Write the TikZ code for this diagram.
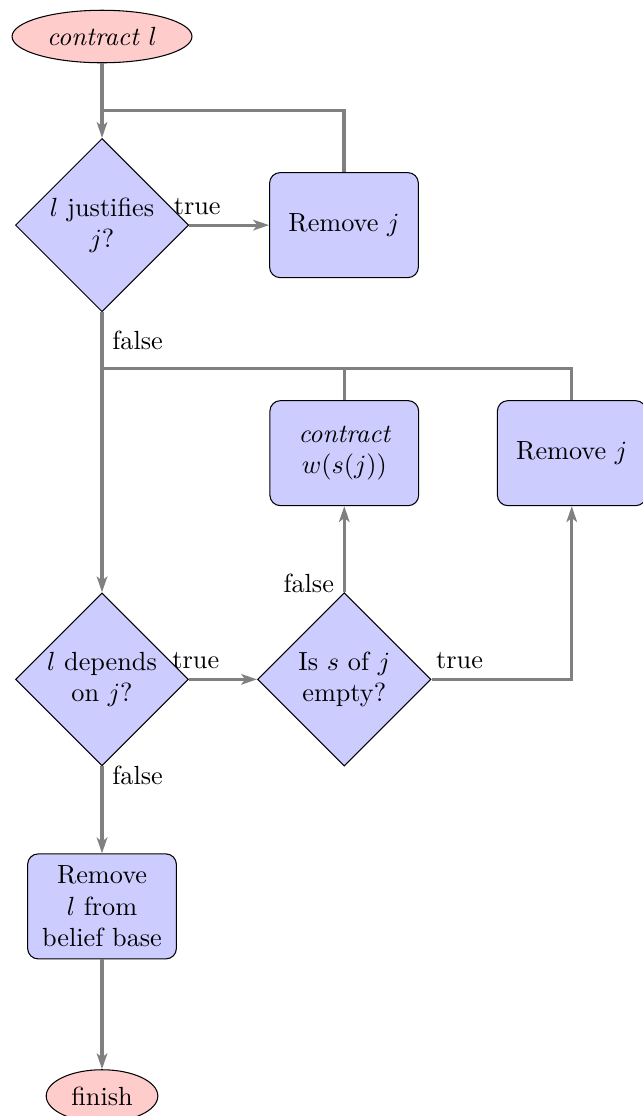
\documentclass[tikz,border=0pt]{standalone}
\usetikzlibrary{shapes.geometric, arrows.meta, positioning}

\tikzset{
	decision/.style={diamond, draw, fill=blue!20, text width=4.5em, align=center, inner sep=0pt},
	block/.style={rectangle, draw, fill=blue!20, text width=5em, align=center, rounded corners, minimum height=4em},
	terminal/.style={ellipse, draw, fill=red!20, minimum height=2em},
	joinline/.style={draw=gray, very thick},
	flowline/.style={joinline, -{Stealth[length=6pt, width=4pt, inset=1.5pt]}},
}

\begin{document}
\begin{tikzpicture}
		\useasboundingbox (-1.366,0.489) rectangle (7.230,-14.453);
		
		\node[terminal] (start) at (0,0) {\emph{contract} $l$};
		\node[decision, below=1cm of start] (justifies) {$l$ justifies $j$?};
		\node[block, right=1.07cm of justifies] (remj) {Remove $j$};
		\node[decision, below=3.75cm of justifies] (depends) {$l$ depends on $j$?};
		\node[decision, right=0.91cm of depends] (empty) {Is $s$ of $j$ empty?};
		\node[block, above=1.15cm of empty] (contractw) {\emph{contract} $w(s(j))$};
		\node[block, right=1.04cm of contractw] (remj2) {Remove $j$};
		\node[block, below=1.165cm of depends] (removel) {Remove $l$ from belief base};
		\node[terminal, below=1.47cm of removel] (finish) {finish};
		
		\coordinate[above=0.82cm of remj] (back);
		\coordinate[above=0.42cm of contractw] (merge);
		
		\path[flowline] (start) -- (justifies);
		\path[flowline] (justifies) -- node[pos=0.1, above] {true} (remj);
		\path[joinline] (remj.north) |- (justifies |- back);
		\path[flowline] (justifies) -- node[pos=0.1, right] {false} (depends);
		\path[flowline] (depends) -- node[pos=0.1, above] {true} (empty);
		\path[flowline] (empty) -- node[pos=0.1, left] {false} (contractw);
		\path[flowline] (empty) -| node[pos=0.1, above] {true} (remj2);
		\path[joinline] (remj2.north) |- (justifies |- merge);
		\path[joinline] (contractw.north) -- (merge);
		\path[flowline] (depends) -- node[pos=0.1, right] {false} (removel);
		\path[flowline] (removel) -- (finish);
	\end{tikzpicture}
\end{document}
